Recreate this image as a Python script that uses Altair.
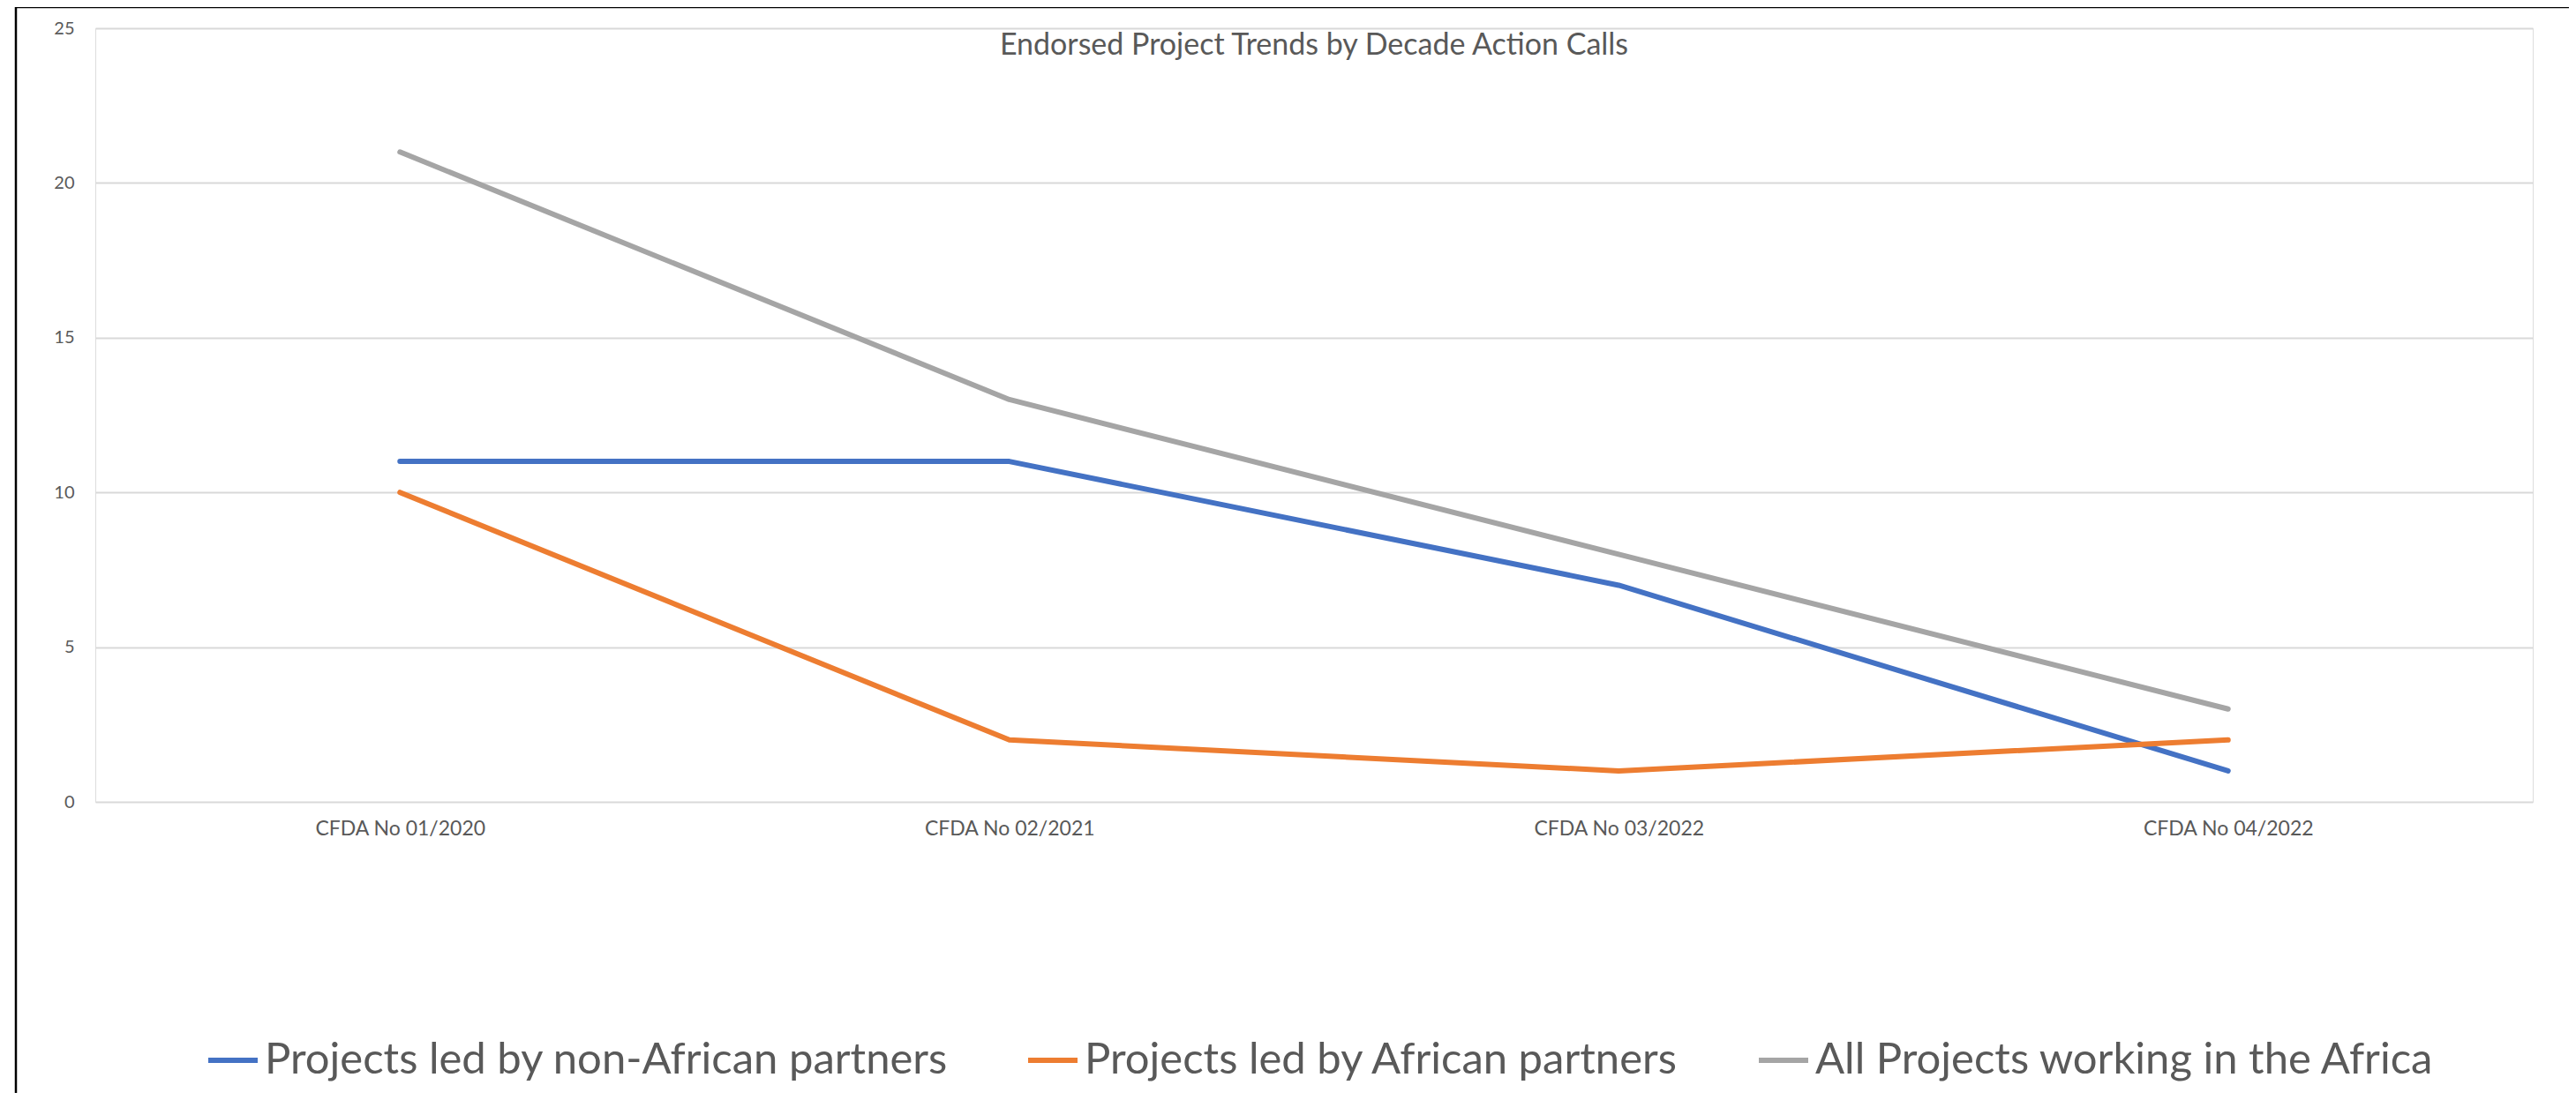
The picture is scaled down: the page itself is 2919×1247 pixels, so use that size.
import altair as alt
import pandas as pd

categories = ["CFDA No 01/2020", "CFDA No 02/2021", "CFDA No 03/2022", "CFDA No 04/2022"]
series_names = [
    "Projects led by non-African partners",
    "Projects led by African partners",
    "All Projects working in the Africa",
]
non_african = [11, 11, 7, 1]
african = [10, 2, 1, 2]
all_projects = [21, 13, 8, 3]
series_colors = ["#4472C4", "#ED7D31", "#A5A5A5"]
y_ticks = [0, 5, 10, 15, 20, 25]

rows = []
for name, vals in zip(series_names, [non_african, african, all_projects]):
    for c, v in zip(categories, vals):
        rows.append({"call": c, "series": name, "value": v, "order": series_names.index(name)})
df = pd.DataFrame(rows)

FONT = "Lato"
TXT = "#595959"
W, H = 2762, 877

lines = alt.Chart(df).mark_line(strokeWidth=6, strokeCap="round", strokeJoin="round").encode(
    x=alt.X("call:N", sort=categories, scale=alt.Scale(type="point", padding=0.5),
            axis=alt.Axis(title=None, labelAngle=0, domain=False, ticks=False, grid=False,
                          labelFontSize=23, labelColor=TXT, labelFont=FONT, labelPadding=19,
                          labelLimit=600)),
    y=alt.Y("value:Q", scale=alt.Scale(domain=[0, 25], nice=False),
            axis=alt.Axis(title=None, values=y_ticks, domain=False, ticks=False,
                          gridColor="#D9D9D9", gridWidth=2, labelFontSize=20,
                          labelColor=TXT, labelFont=FONT, labelPadding=24)),
    color=alt.Color("series:N", sort=series_names,
                    scale=alt.Scale(domain=series_names, range=series_colors),
                    legend=alt.Legend(title=None, orient="none", direction="horizontal",
                                      legendX=125, legendY=1139,
                                      symbolType="stroke", symbolSize=3136, symbolStrokeWidth=6,
                                      labelFontSize=49, labelColor=TXT, labelFont=FONT,
                                      labelOffset=5, columnPadding=78, labelLimit=2000)),
    order="order:Q",
)

border = alt.Chart(alt.Data(values=[{}])).mark_rule(color="black", strokeWidth=2.5).encode(
    x=alt.value(-90), y=alt.value(-24), y2=alt.value(1300)
) + alt.Chart(alt.Data(values=[{}])).mark_rule(color="black", strokeWidth=2.5).encode(
    x=alt.value(-90), x2=alt.value(2900), y=alt.value(-24)
)

chart = alt.layer(lines, border).properties(
    width=W, height=H,
    padding={"left": 100, "top": 24, "right": 41, "bottom": 330},
    autosize=alt.AutoSizeParams(type="none"),
    title=alt.TitleParams(text="Endorsed Project Trends by Decade Action Calls", anchor="middle",
                          fontSize=34, font=FONT, fontWeight="normal", color=TXT, offset=-62),
).configure_view(stroke=None).configure(background="white")

chart.save("out.html", embed_options={"renderer": "svg", "actions": False})
